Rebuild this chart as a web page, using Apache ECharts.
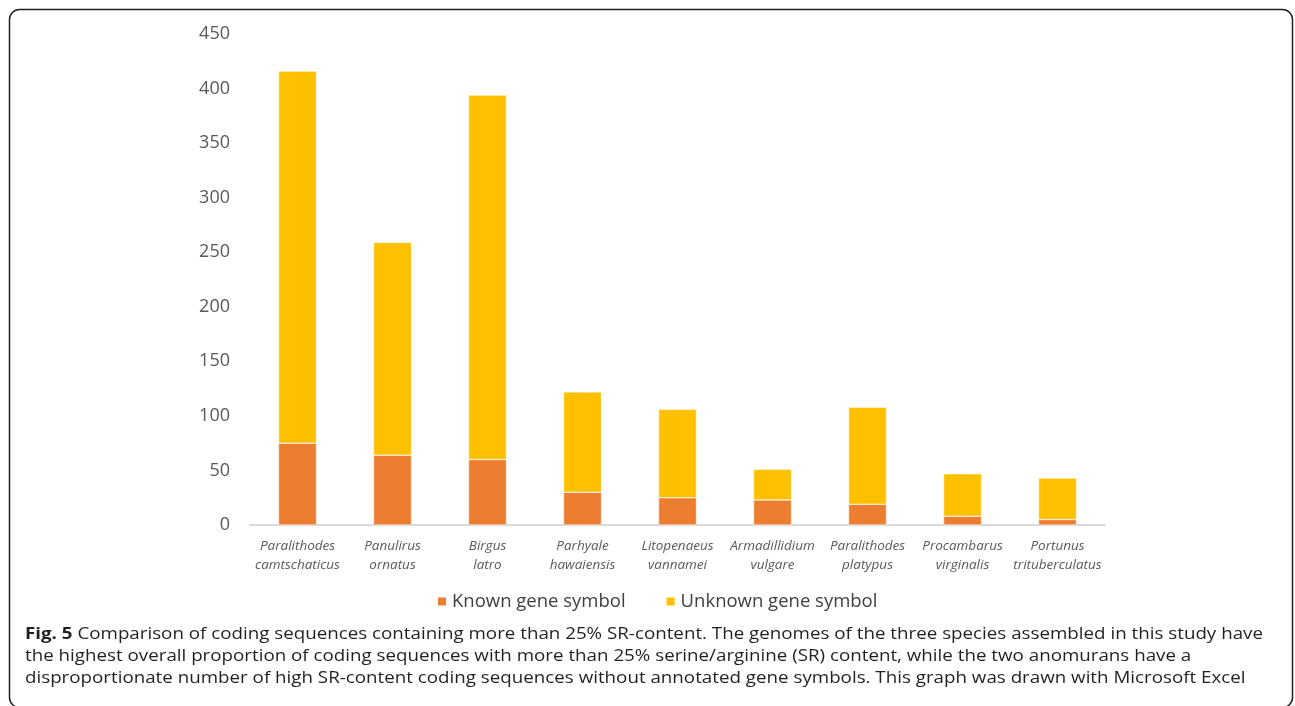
<!DOCTYPE html>
<html>
<head>
<meta charset="utf-8">
<script src="https://cdn.jsdelivr.net/npm/echarts@6/dist/echarts.min.js"></script>
<style>
  html, body { margin: 0; padding: 0; background: #ffffff; }
  #chart { width: 1295px; height: 706px; }
</style>
</head>
<body>
<div id="chart"></div>
<script>
// Species with high SR-content coding sequences
const species = [
  'Paralithodes\ncamtschaticus',
  'Panulirus\nornatus',
  'Birgus\nlatro',
  'Parhyale\nhawaiensis',
  'Litopenaeus\nvannamei',
  'Armadillidium\nvulgare',
  'Paralithodes\nplatypus',
  'Procambarus\nvirginalis',
  'Portunus\ntrituberculatus'
];
// Counts of coding sequences with > 25% SR-content
const knownSymbol   = [75, 64, 60, 30, 25, 23, 19, 8, 5];
const unknownSymbol = [341, 195, 334, 92, 81, 28, 89, 39, 38];
const yTicks = [0, 50, 100, 150, 200, 250, 300, 350, 400, 450];

const captionLines = [
  '{b|Fig. 5} Comparison of coding sequences containing more than 25% SR-content. The genomes of the three species assembled in this study have',
  'the highest overall proportion of coding sequences with more than 25% serine/arginine (SR) content, while the two anomurans have a',
  'disproportionate number of high SR-content coding sequences without annotated gene symbols. This graph was drawn with Microsoft Excel'
];

const textFont = '"Open Sans", "DejaVu Sans", sans-serif';
const chart = echarts.init(document.getElementById('chart'), null, { renderer: 'canvas' });

// Caption lines below the plot, stretched slightly to the figure's text measure
const captionGraphics = captionLines.map((line, i) => ({
  type: 'text',
  x: 25,
  y: 635 + i * 22,
  scaleX: 1.21,
  style: {
    text: line,
    fontFamily: textFont,
    fontSize: 15.5,
    fill: '#231f20',
    verticalAlign: 'middle',
    rich: {
      b: { fontWeight: 'bold', fontFamily: textFont, fontSize: 15.5, fill: '#231f20' }
    }
  },
  silent: true
}));

chart.setOption({
  backgroundColor: '#ffffff',
  animation: false,
  textStyle: { fontFamily: textFont },
  grid: { left: 250, right: 190, top: 34, bottom: 181, containLabel: false },
  legend: {
    left: 436,
    top: 592,
    padding: 0,
    itemWidth: 10,
    itemHeight: 10,
    itemGap: 39,
    icon: 'rect',
    textStyle: { fontSize: 18.5, color: '#404040', fontFamily: textFont },
    data: ['Known gene symbol', 'Unknown gene symbol']
  },
  xAxis: {
    type: 'category',
    data: species,
    axisLine: { show: true, lineStyle: { color: '#d9d9d9', width: 2 } },
    axisTick: { show: false },
    axisLabel: {
      interval: 0,
      margin: 12,
      fontSize: 13.5,
      fontStyle: 'italic',
      color: '#595959',
      lineHeight: 19,
      fontFamily: textFont
    }
  },
  yAxis: {
    type: 'value',
    min: yTicks[0],
    max: yTicks[yTicks.length - 1],
    interval: yTicks[1] - yTicks[0],
    axisLine: { show: false },
    axisTick: { show: false },
    splitLine: { show: false },
    axisLabel: { fontSize: 18, color: '#595959', margin: 20, fontFamily: textFont }
  },
  series: [
    {
      name: 'Known gene symbol',
      type: 'bar',
      stack: 'total',
      barWidth: 38,
      data: knownSymbol,
      itemStyle: { color: '#ed7d31', borderColor: '#ffffff', borderWidth: 0.5 }
    },
    {
      name: 'Unknown gene symbol',
      type: 'bar',
      stack: 'total',
      barWidth: 38,
      data: unknownSymbol,
      itemStyle: { color: '#ffc000', borderColor: '#ffffff', borderWidth: 0.5 }
    }
  ],
  graphic: [
    {
      type: 'rect',
      shape: { x: 9.5, y: 9.5, width: 1283, height: 698, r: 10 },
      style: { fill: 'none', stroke: '#231f20', lineWidth: 1.5 },
      silent: true
    }
  ].concat(captionGraphics)
});
</script>
</body>
</html>
